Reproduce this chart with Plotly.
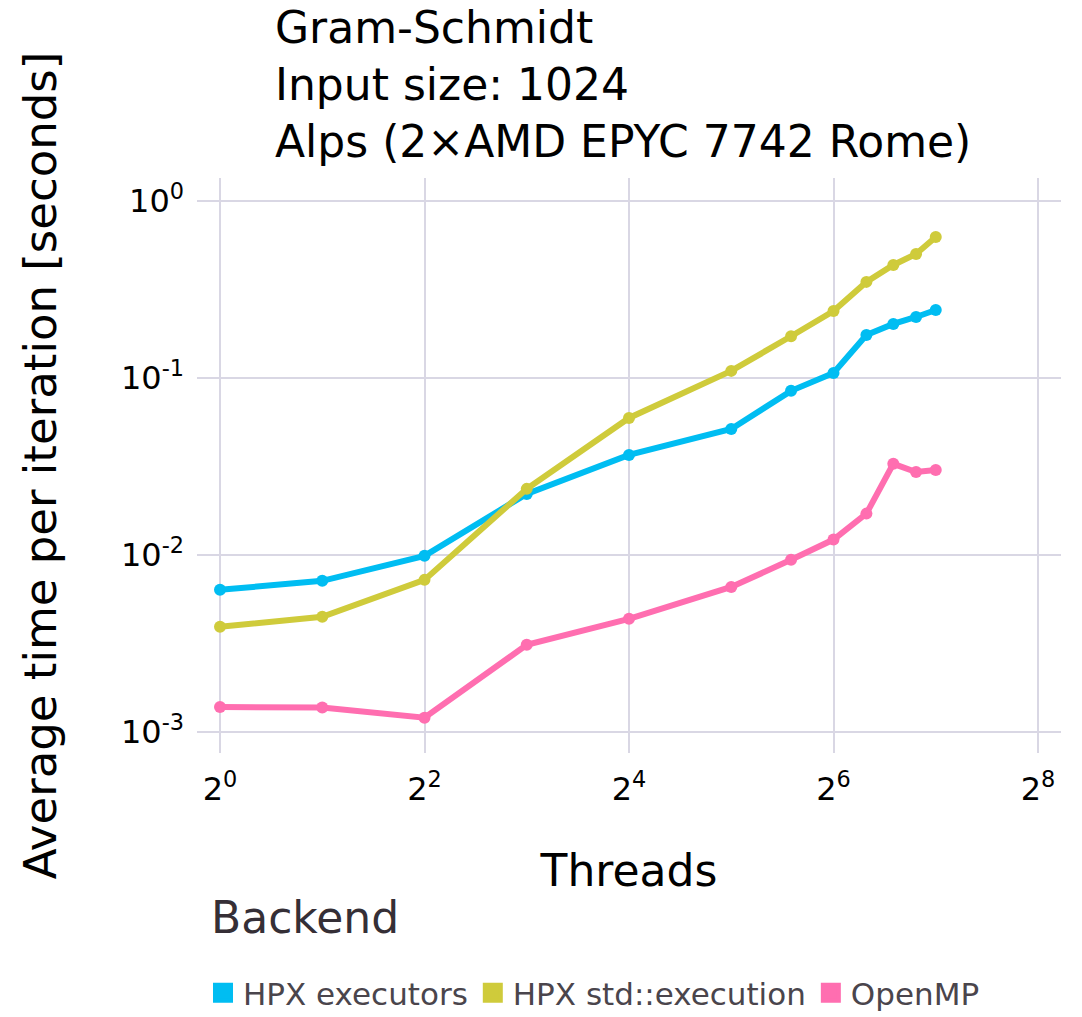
import math
import plotly.graph_objects as go

threads = [1, 2, 4, 8, 16, 32, 48, 64, 80, 96, 112, 128]

hpx_executors = [0.00634, 0.00713, 0.00987, 0.0221, 0.0367, 0.0515, 0.0845, 0.1067, 0.175, 0.202, 0.221, 0.242]
hpx_std_execution = [0.00392, 0.00447, 0.00722, 0.0236, 0.0594, 0.1096, 0.172, 0.239, 0.349, 0.435, 0.502, 0.626]
openmp = [0.00138, 0.00137, 0.00120, 0.0031, 0.00435, 0.00659, 0.00937, 0.0122, 0.0171, 0.0327, 0.0294, 0.0302]

series_names = ["HPX executors", "HPX std::execution", "OpenMP"]
series_values = [hpx_executors, hpx_std_execution, openmp]
colors = ["#00BDF2", "#CFCB3B", "#FF6EB0"]

x_tickvals = [1, 4, 16, 64, 256]
x_ticktext = ["2<sup>0</sup>", "2<sup>2</sup>", "2<sup>4</sup>", "2<sup>6</sup>", "2<sup>8</sup>"]
y_tickvals = [0.001, 0.01, 0.1, 1]
y_ticktext = ["10<sup>-3</sup>", "10<sup>-2</sup>", "10<sup>-1</sup>", "10<sup>0</sup>"]

FONT = "DejaVu Sans"

fig = go.Figure()
for name, vals, col in zip(series_names, series_values, colors):
    fig.add_trace(go.Scatter(
        x=threads, y=vals, mode="lines+markers", name=name,
        line=dict(color=col, width=6), marker=dict(color=col, size=12),
        showlegend=False,
    ))
for name, col in zip(series_names, colors):
    fig.add_trace(go.Scatter(
        x=[None], y=[None], mode="markers", name=name,
        marker=dict(color=col, size=20, symbol="square", line=dict(color=col, width=4)),
        showlegend=True,
    ))

l2 = math.log10(2)
fig.update_layout(
    width=1082, height=1017,
    margin=dict(l=197, r=21, t=178, b=264, autoexpand=False),
    paper_bgcolor="white", plot_bgcolor="white",
    font=dict(family=FONT, color="black"),
    title=dict(
        text="Gram-Schmidt<br>Input size: 1024<br>Alps (2×AMD EPYC 7742 Rome)",
        font=dict(family=FONT, size=44, color="black"),
        xref="container", x=275 / 1082, xanchor="left",
        yref="container", y=0.958, yanchor="top",
    ),
    xaxis=dict(
        type="log", range=[-0.225 * l2, 8.225 * l2],
        tickvals=x_tickvals, ticktext=x_ticktext,
        tickfont=dict(size=32, family=FONT, color="black"),
        showgrid=True, gridcolor="#D9D7E4", gridwidth=1.5,
        zeroline=False, showline=False, ticks="",
        ticklabelstandoff=14, automargin=False,
        title=dict(text="Threads", font=dict(size=44, family=FONT, color="black"), standoff=48),
    ),
    yaxis=dict(
        type="log", range=[-3.12, 0.13],
        tickvals=y_tickvals, ticktext=y_ticktext,
        tickfont=dict(size=32, family=FONT, color="black"),
        showgrid=True, gridcolor="#D9D7E4", gridwidth=1.5,
        zeroline=False, showline=False, ticks="",
        ticklabelstandoff=12, automargin=False,
        title=dict(text="Average time per iteration [seconds]", font=dict(size=45, family=FONT, color="black"), standoff=50),
    ),
    legend=dict(
        orientation="h",
        x=(203 - 197) / 864, xanchor="left",
        y=-(966 - 753) / 575, yanchor="top",
        font=dict(size=31, family=FONT, color="#4A454C"),
        bgcolor="rgba(0,0,0,0)",
    ),
    annotations=[dict(
        text="Backend", xref="paper", yref="paper",
        x=(209 - 197) / 864, xanchor="left",
        y=-(917 - 753) / 575, yanchor="middle",
        showarrow=False,
        font=dict(size=44, family=FONT, color="#352F36"),
    )],
)

fig.write_html("out.html")
